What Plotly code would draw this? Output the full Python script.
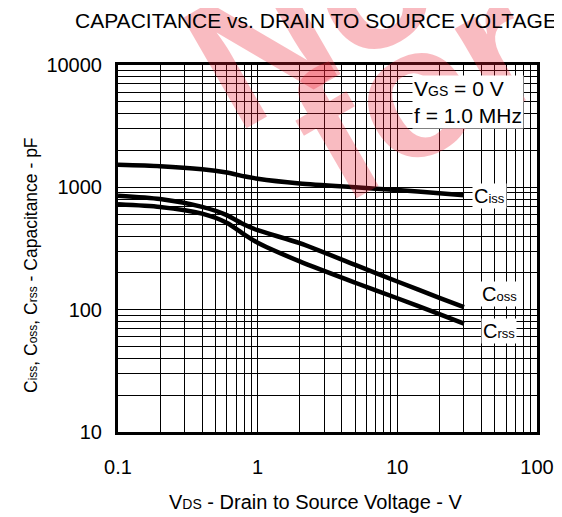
import plotly.graph_objects as go

# ---- data ----
vds = [0.1, 0.2, 0.4, 0.6, 0.8, 1, 2, 5, 10, 20, 30]
ciss = [1530, 1490, 1405, 1320, 1230, 1175, 1075, 1000, 950, 895, 860]
coss = [855, 803, 692, 593, 497, 446, 350, 232, 170, 125, 105]
crss = [728, 692, 610, 514, 412, 352, 248, 166, 124, 92, 77]

x_tickvals = [0.1, 1, 10, 100]
x_ticktext = ["0.1", "1", "10", "100"]
y_tickvals = [10, 100, 1000, 10000]
y_ticktext = ["10", "100", "1000", "10000"]

# page body has an 8px margin; compensate so the plot lands where the reference has it
OFF = 8
W, H = 562 - OFF, 517 - OFF
L, T = 118 - OFF, 65 - OFF
PW, PH = 419, 367
R, B = W - L - PW, H - T - PH

def px(x):
    return (x - OFF - L) / PW

def py(y):
    return (T + PH - (y - OFF)) / PH

FONT = "Arial, Liberation Sans, sans-serif"

fig = go.Figure()
for name, vals in [("Ciss", ciss), ("Coss", coss), ("Crss", crss)]:
    fig.add_trace(go.Scatter(x=vds, y=vals, mode="lines", name=name,
                             line=dict(color="black", width=4.5, shape="spline", smoothing=0.7),
                             showlegend=False))

x_minor = [m * 10 ** e for e in range(-1, 2) for m in range(2, 10)]
y_minor = [m * 10 ** e for e in range(1, 4) for m in range(2, 10)]

axis_common = dict(
    type="log", showgrid=True, gridcolor="black", gridwidth=1,
    showline=True, linecolor="black", linewidth=3, mirror=True,
    ticks="", zeroline=False,
    tickfont=dict(family=FONT, size=20, color="black"),
)

fig.update_xaxes(range=[-1, 2], tickmode="array", tickvals=x_tickvals, ticktext=x_ticktext,
                 minor=dict(tickmode="array", tickvals=x_minor, showgrid=True,
                            gridcolor="black", gridwidth=1, ticks=""),
                 ticklabelstandoff=15, **axis_common)
fig.update_yaxes(range=[1, 4], tickmode="array", tickvals=y_tickvals, ticktext=y_ticktext,
                 minor=dict(tickmode="array", tickvals=y_minor, showgrid=True,
                            gridcolor="black", gridwidth=1, ticks=""),
                 ticklabelstandoff=9, **axis_common)

ann = []
# watermark
wm_color = "rgba(235,30,50,0.30)"
ann.append(dict(text="<b>for</b>", x=px(416), y=py(90), xref="paper", yref="paper",
                showarrow=False, textangle=-30, xanchor="center", yanchor="middle",
                font=dict(family=FONT, size=185, color=wm_color)))
ann.append(dict(text="<b>Not</b>", x=px(337), y=py(2), xref="paper", yref="paper",
                showarrow=False, textangle=-30, xanchor="center", yanchor="middle",
                font=dict(family=FONT, size=185, color=wm_color)))
# titles
ann.append(dict(text="CAPACITANCE vs. DRAIN TO SOURCE VOLTAGE", x=px(316), y=py(20),
                xref="paper", yref="paper", showarrow=False, xanchor="center", yanchor="middle",
                font=dict(family=FONT, size=21, color="black")))
ann.append(dict(text="V<span style='font-size:14px'>DS</span> - Drain to Source Voltage - V",
                x=px(315.5), y=py(502), xref="paper", yref="paper", showarrow=False,
                xanchor="center", yanchor="middle", font=dict(family=FONT, size=20, color="black")))
ann.append(dict(text="C<span style='font-size:12px'>iss</span>, C<span style='font-size:12px'>oss</span>, "
                     "C<span style='font-size:12px'>rss</span> - Capacitance - pF",
                x=px(31), y=py(265), xref="paper", yref="paper", showarrow=False, textangle=-90,
                xanchor="center", yanchor="middle", font=dict(family=FONT, size=17.5, color="black")))
# condition box
ann.append(dict(text="V<span style='font-size:14px'>GS</span> = 0 V<br>f = 1.0 MHz",
                x=px(412), y=py(75), xref="paper", yref="paper", showarrow=False,
                xanchor="left", yanchor="top", align="left", bgcolor="white", borderpad=1,
                font=dict(family=FONT, size=21, color="black")))
# curve labels
for txt, sub, lx, ly in [("C", "iss", 472, 196), ("C", "oss", 480, 294), ("C", "rss", 481, 331)]:
    ann.append(dict(text=f"{txt}<span style='font-size:13px'>{sub}</span>",
                    x=px(lx), y=py(ly), xref="paper", yref="paper", showarrow=False,
                    xanchor="left", yanchor="middle", bgcolor="white", borderpad=1,
                    font=dict(family=FONT, size=20, color="black")))

fig.update_layout(width=W, height=H, margin=dict(l=L, r=R, t=T, b=B, autoexpand=False),
                  paper_bgcolor="white", plot_bgcolor="white", annotations=ann,
                  showlegend=False)

fig.write_html("out.html")
